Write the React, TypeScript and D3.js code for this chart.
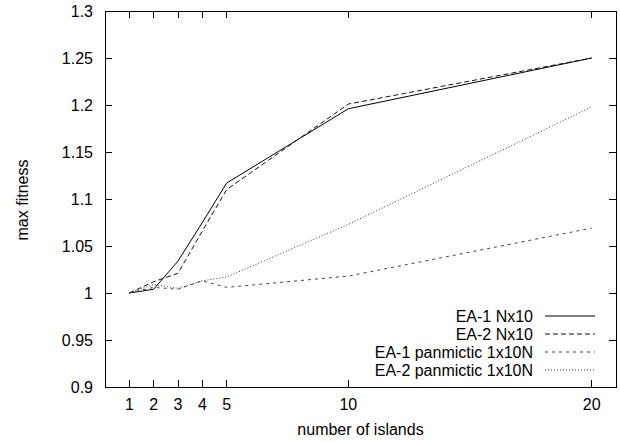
import React from "react";
import * as d3 from "d3";

const islands = [1, 2, 3, 4, 5, 10, 20];
const ea1Island = [1.0, 1.004, 1.034, 1.075, 1.117, 1.196, 1.25];
const ea2Island = [1.0, 1.012, 1.021, 1.066, 1.11, 1.201, 1.25];
const ea1Panmictic = [1.0, 1.006, 1.004, 1.013, 1.006, 1.018, 1.069];
const ea2Panmictic = [1.0, 1.009, 1.005, 1.013, 1.017, 1.073, 1.198];

const seriesNames = [
  "EA-1 Nx10",
  "EA-2 Nx10",
  "EA-1 panmictic 1x10N",
  "EA-2 panmictic 1x10N",
];
const xTicks = [1, 2, 3, 4, 5, 10, 20];
const yTicks = [0.9, 0.95, 1, 1.05, 1.1, 1.15, 1.2, 1.25, 1.3];

const W = 620;
const H = 443;
const left = 105;
const right = 616;
const top = 11;
const bottom = 387;
const font = "'Liberation Sans', Arial, Helvetica, sans-serif";
const fs = 16;
const tickLen = 7;

const styles = [
  { dash: "none", color: "#000" },
  { dash: "5,3", color: "#111" },
  { dash: "3,4", color: "#444" },
  { dash: "1,2", color: "#333" },
];

export default function App() {
  const x = d3.scaleLinear().domain([0, 21]).range([left, right]);
  const y = d3.scaleLinear().domain([0.9, 1.3]).range([bottom, top]);
  const all = [ea1Island, ea2Island, ea1Panmictic, ea2Panmictic];
  const line = d3
    .line<number>()
    .x((_, i) => x(islands[i]))
    .y((v) => y(v));

  const legendY = [316, 334, 352, 370];

  return (
    <svg
      width={W}
      height={H}
      style={{ position: "absolute", left: 0, top: 0, background: "#fff" }}
      fontFamily={font}
      fontSize={fs}
    >
      <rect width={W} height={H} fill="#fff" />
      {/* y ticks, left and right, pointing inward */}
      <g shapeRendering="crispEdges" stroke="#000" strokeWidth={1}>
        {yTicks.map((t) => (
          <g key={"y" + t}>
            <line x1={left} x2={left + tickLen} y1={y(t)} y2={y(t)} />
            <line x1={right - tickLen} x2={right} y1={y(t)} y2={y(t)} />
          </g>
        ))}
        {xTicks.map((t) => (
          <g key={"x" + t}>
            <line x1={x(t)} x2={x(t)} y1={bottom} y2={bottom - tickLen} />
            <line x1={x(t)} x2={x(t)} y1={top} y2={top + tickLen} />
          </g>
        ))}
        <rect
          x={left}
          y={top}
          width={right - left}
          height={bottom - top}
          fill="none"
        />
      </g>
      {yTicks.map((t) => (
        <text
          key={"yl" + t}
          x={left - 12}
          y={y(t)}
          dy="0.36em"
          textAnchor="end"
          fill="#000"
        >
          {d3.format("")(+t.toFixed(2))}
        </text>
      ))}
      {xTicks.map((t) => (
        <text
          key={"xl" + t}
          x={x(t)}
          y={410}
          textAnchor="middle"
          fill="#000"
        >
          {t}
        </text>
      ))}
      <text x={(left + right) / 2} y={435} textAnchor="middle" fill="#000">
        number of islands
      </text>
      <text
        transform={`translate(28,200) rotate(-90)`}
        textAnchor="middle"
        fill="#000"
      >
        max fitness
      </text>
      {all.map((s, i) => (
        <path
          key={"s" + i}
          d={line(s) || ""}
          fill="none"
          stroke={styles[i].color}
          strokeWidth={1}
          strokeDasharray={styles[i].dash}
        />
      ))}
      {seriesNames.map((n, i) => (
        <g key={"lg" + i}>
          <text
            x={533}
            y={legendY[i]}
            dy="0.36em"
            textAnchor="end"
            fill="#000"
          >
            {n}
          </text>
          <line
            x1={545}
            x2={595}
            y1={legendY[i]}
            y2={legendY[i]}
            stroke={styles[i].color}
            strokeWidth={1}
            strokeDasharray={styles[i].dash}
          />
        </g>
      ))}
    </svg>
  );
}
